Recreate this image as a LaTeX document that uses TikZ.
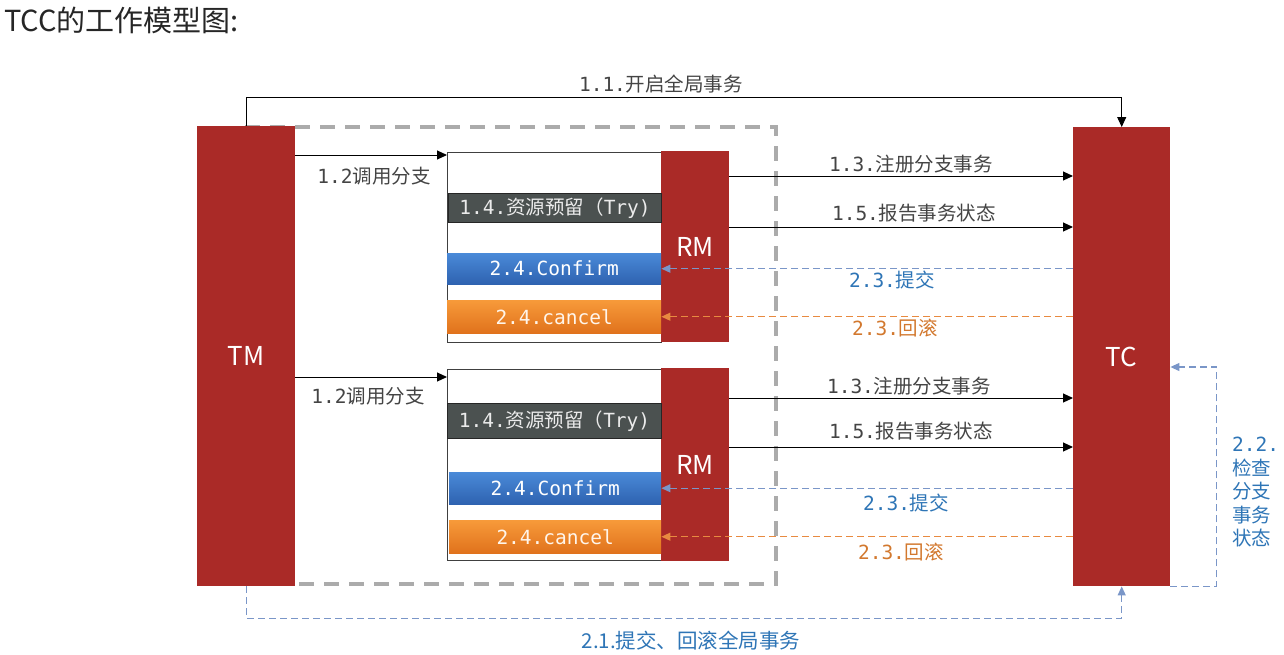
\documentclass[tikz,border=0pt]{standalone}
\usepackage{fontspec}
\setmainfont{Noto Sans CJK SC}
\newfontfamily\monof{DejaVu Sans Mono}
\usetikzlibrary{arrows.meta,calc}
\definecolor{tccred}{HTML}{AA2A27}
\definecolor{labgray}{HTML}{444444}
\definecolor{labblue}{HTML}{2E75B6}
\definecolor{laborange}{HTML}{D2782E}
\definecolor{dashblue}{HTML}{7A96C8}
\definecolor{dashorange}{HTML}{E88A40}
\definecolor{rectgray}{HTML}{ABABAB}
\definecolor{trygray}{HTML}{4B5150}
\definecolor{conftop}{HTML}{4A8AD8}
\definecolor{confbot}{HTML}{2E62B0}
\definecolor{canctop}{HTML}{F79A3A}
\definecolor{cancbot}{HTML}{E0721C}
\begin{document}
\begin{tikzpicture}[x=1pt,y=-1pt,
  redbox/.style={draw=none,fill=tccred,text=white,inner sep=0pt,anchor=north west,font=\fontsize{26}{30}\selectfont},
  groupbox/.style={draw=black!75,line width=1.2pt,fill=white,inner sep=0pt,anchor=north west},
  bar/.style={inner sep=0pt,anchor=north west,font=\fontsize{19.5}{23}\selectfont},
  trybar/.style={bar,fill=trygray,draw=black!85,line width=1pt,text=black!8},
  confbar/.style={bar,top color=conftop,bottom color=confbot,text=white},
  cancbar/.style={bar,top color=canctop,bottom color=cancbot,text=white!92!orange},
  lab/.style={inner sep=0pt,font=\fontsize{19.5}{23}\selectfont},
  arr/.style={draw=black,line width=1pt,-{Triangle[length=10pt,width=9pt]}},
  bdash/.style={draw=dashblue,line width=1.2pt,dash pattern=on 7pt off 4pt},
  odash/.style={draw=dashorange,line width=1.2pt,dash pattern=on 7pt off 4pt},
  btip/.style={-{Triangle[length=9pt,width=8pt,fill=dashblue]}},
  otip/.style={-{Triangle[length=9pt,width=8pt,fill=dashorange]}}
]
\useasboundingbox (0,0) rectangle (1284,654);

% title
\node[anchor=west,inner sep=0pt,text=black!85,font=\fontsize{29}{34}\selectfont] (title) at (4,20) {TCC的工作模型图:};

% dashed gray group rectangle
\draw[rectgray,line width=3.5pt,dash pattern=on 15pt off 10pt] (245,127) -- (776,127) -- (776,584) -- (245,584);

% main boxes
\node[redbox,minimum width=98pt,minimum height=460pt] (TM) at (197,126) {TM};
\node[redbox,minimum width=97pt,minimum height=459pt] (TC) at (1073,127) {TC};

% upper RM group
\node[groupbox,minimum width=214pt,minimum height=190pt] (box1) at (447,152) {};
\node[redbox,minimum width=68pt,minimum height=191pt] (RM1) at (661,151) {RM};
\node[trybar,minimum width=213pt,minimum height=29pt] (try1) at (448,193) {{\monof 1.4.}资源预留（{\monof Try)}};
\node[confbar,minimum width=214pt,minimum height=31pt] (conf1) at (447,253) {\monof 2.4.Confirm};
\node[cancbar,minimum width=214pt,minimum height=33pt] (canc1) at (447,300) {\monof 2.4.cancel};

% lower RM group
\node[groupbox,minimum width=214pt,minimum height=191pt] (box2) at (447,369) {};
\node[redbox,minimum width=68pt,minimum height=193pt] (RM2) at (661,368) {RM};
\node[trybar,minimum width=214pt,minimum height=35pt] (try2) at (447,403) {{\monof 1.4.}资源预留（{\monof Try)}};
\node[confbar,minimum width=212pt,minimum height=32pt] (conf2) at (449,472) {\monof 2.4.Confirm};
\node[cancbar,minimum width=212pt,minimum height=33pt] (canc2) at (449,520) {\monof 2.4.cancel};

% 1.1
\draw[arr] (TM.north) -- (TM.north |- 0,97) -| (TC.north);
\node[lab,text=labgray] (l11) at (661,84) {{\monof 1.1.}开启全局事务};

% 1.2
\draw[arr] (TM.east |- 0,155) -- (box1.west |- 0,155);
\node[lab,text=labgray] (l12a) at (374,176) {{\monof 1.2}调用分支};
\draw[arr] (TM.east |- 0,377) -- (box2.west |- 0,377);
\node[lab,text=labgray] (l12b) at (368,396) {{\monof 1.2}调用分支};

% 1.3 / 1.5 upper
\draw[arr] (RM1.east |- 0,176) -- (TC.west |- 0,176);
\node[lab,text=labgray] (l13a) at (911,164) {{\monof 1.3.}注册分支事务};
\draw[arr] (RM1.east |- 0,227) -- (TC.west |- 0,227);
\node[lab,text=labgray] (l15a) at (914,213) {{\monof 1.5.}报告事务状态};

% 1.3 / 1.5 lower
\draw[arr] (RM2.east |- 0,398) -- (TC.west |- 0,398);
\node[lab,text=labgray] (l13b) at (909,386) {{\monof 1.3.}注册分支事务};
\draw[arr] (RM2.east |- 0,447) -- (TC.west |- 0,447);
\node[lab,text=labgray] (l15b) at (911,431) {{\monof 1.5.}报告事务状态};

% 2.3 upper
\draw[bdash,btip] (TC.west |- conf1) -- (conf1.east);
\node[lab,text=labblue] (l23ca) at (892,280) {{\monof 2.3.}提交};
\draw[odash,otip] (TC.west |- canc1) -- (canc1.east);
\node[lab,text=laborange] (l23ra) at (895,328) {{\monof 2.3.}回滚};

% 2.3 lower
\draw[bdash,btip] (TC.west |- conf2) -- (conf2.east);
\node[lab,text=labblue] (l23cb) at (906,503) {{\monof 2.3.}提交};
\draw[odash,otip] (TC.west |- canc2) -- (canc2.east);
\node[lab,text=laborange] (l23rb) at (901,552) {{\monof 2.3.}回滚};

% 2.1 bottom loop
\draw[bdash,btip] (TM.south) -- ++(0,32) coordinate (b1) -| (TC.south);
\node[lab,text=labblue,font=\fontsize{20.5}{24}\selectfont] (l21) at (691,641) {2.1.提交、回滚全局事务};

% 2.2 right loop
\draw[bdash,btip] (TC.south east) -- ++(46,0) coordinate (r1) |- (TC.east |- 0,367);
\node[lab,text=labblue,anchor=north west,align=left,font=\fontsize{19.5}{23.5}\selectfont] (l22) at (1232,437) {{\monof 2.2.}\\检查\\分支\\事务\\状态};
\end{tikzpicture}
\end{document}
